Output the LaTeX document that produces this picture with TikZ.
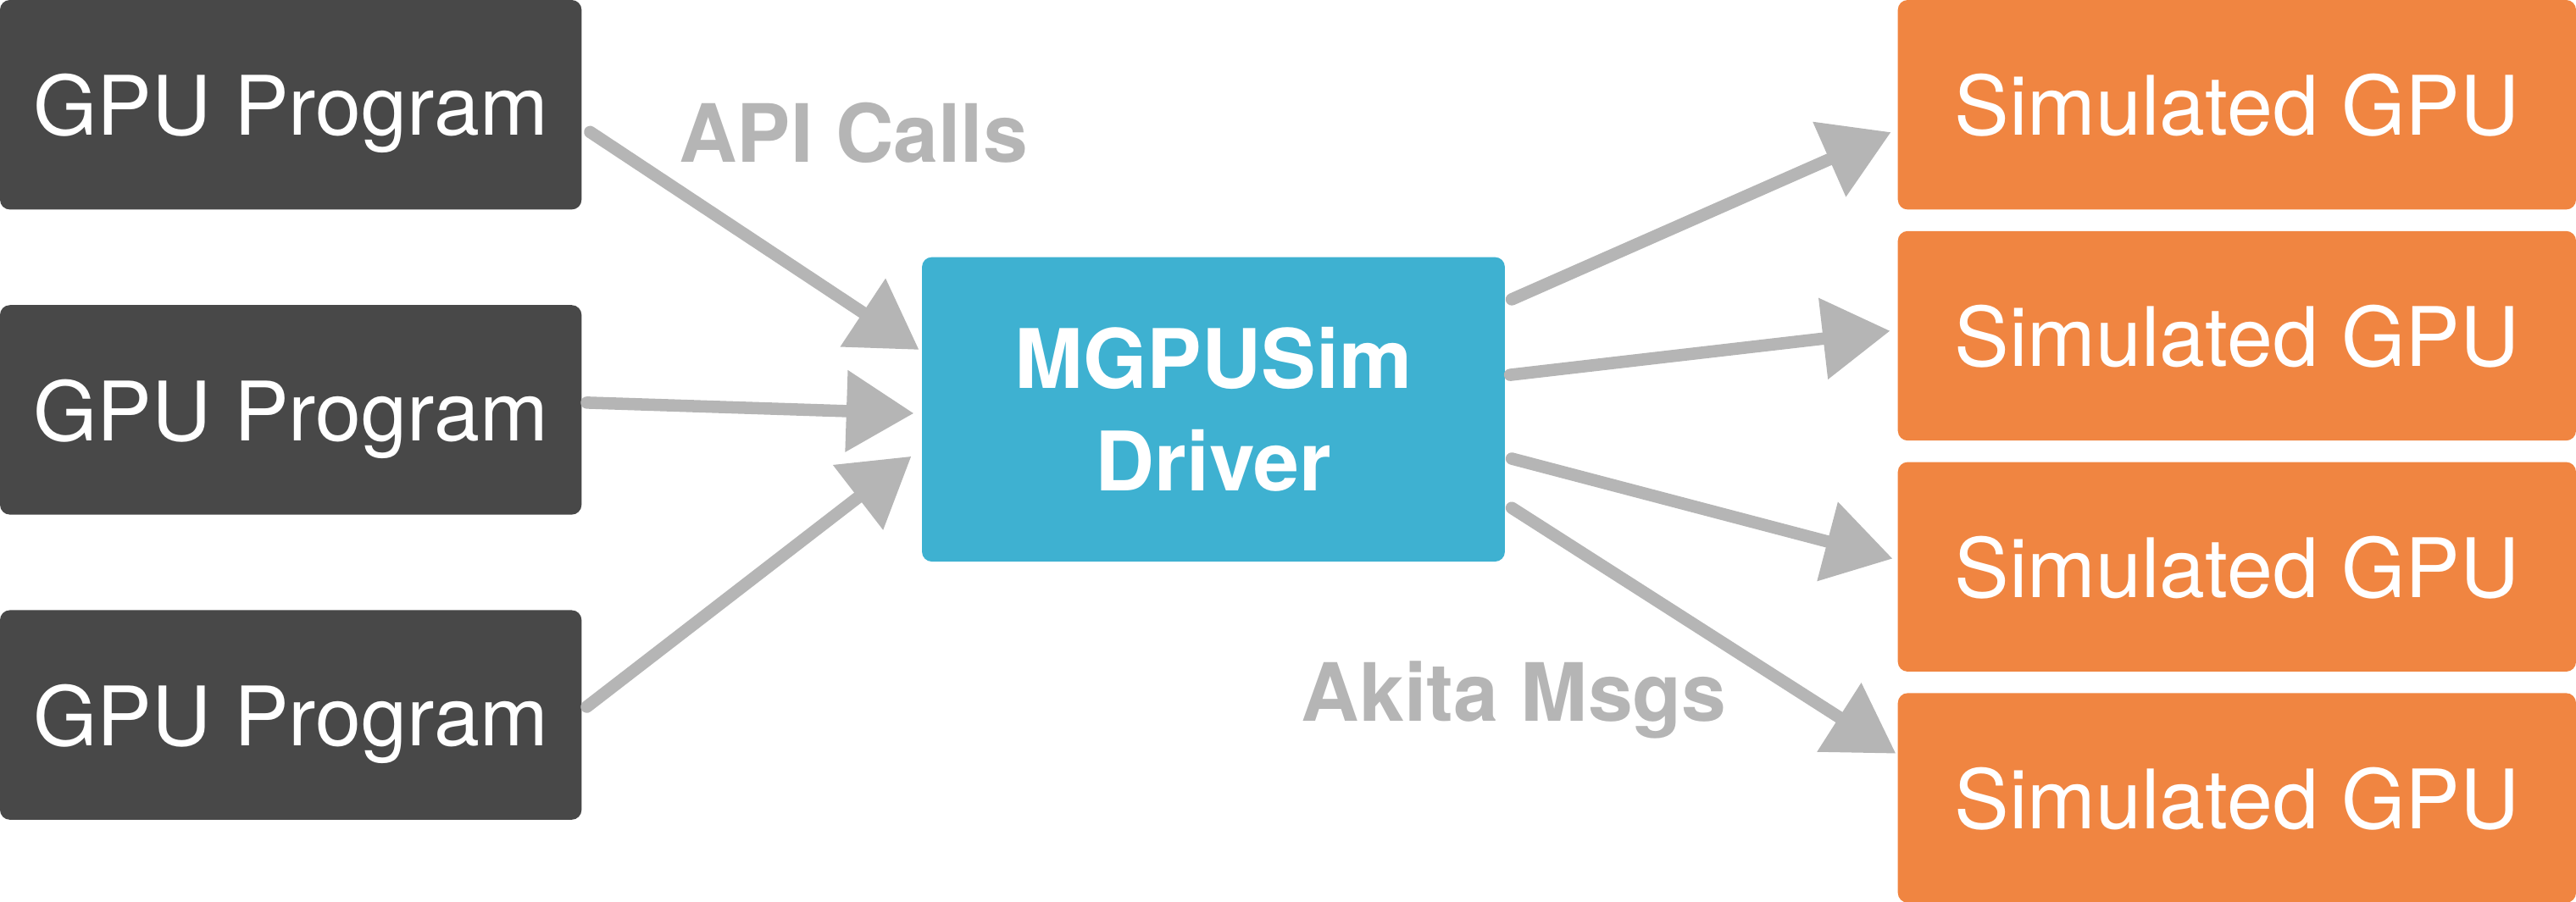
\documentclass[tikz,border=0pt]{standalone}
\usepackage{fontspec}
\setmainfont{TeX Gyre Heros}
\usepackage{xcolor}
\usepackage{tikz}
\usetikzlibrary{positioning,calc,arrows.meta}
\definecolor{progGray}{HTML}{484848}
\definecolor{driverBlue}{HTML}{3EB1D1}
\definecolor{simOrange}{HTML}{F08541}
\definecolor{flowGray}{HTML}{B5B5B5}

\begin{document}
\begin{tikzpicture}[x=1pt, y=-1pt,
    box/.style={rectangle, rounded corners=6pt, text=white, inner sep=0pt, font=\fontsize{50}{62}\selectfont},
    program/.style={box, fill=progGray, text depth=0pt, minimum width=354pt, minimum height=127.6pt},
    simgpu/.style={box, fill=simOrange, text depth=0pt, minimum width=412.8pt, minimum height=127.6pt},
    driverbox/.style={box, fill=driverBlue, align=center, font=\bfseries\fontsize{50}{62}\selectfont, minimum width=354.8pt, minimum height=185.4pt},
    flow/.style={draw=flowGray, line width=7.5pt, line cap=round, -{Triangle[length=41pt, width=48pt]}},
    tag/.style={text=flowGray, anchor=base, font=\bfseries\fontsize{49}{59}\selectfont}]
    \useasboundingbox (0,0) rectangle (1568,548.8);
    \node[program] (prog1) at (177,63.8) {GPU Program};
    \node[program, below=57.8pt of prog1] (prog2) {GPU Program};
    \node[program, below=57.8pt of prog2] (prog3) {GPU Program};
    \node[driverbox] (driver) at (738.6,249.3) {MGPUSim\\Driver};
    \node[simgpu] (sim1) at (1361.6,63.8) {Simulated GPU};
    \foreach \i [count=\j from 2] in {1,2,3}
        \node[simgpu, below=12.7pt of sim\i] (sim\j) {Simulated GPU};
    \node[tag] (api) at (519.5,99) {API Calls};
    \node[tag] (msgs) at (921.6,439.3) {Akita Msgs};
    \draw[flow] ($(prog1.east)+(5,16.6)$) -- ($(driver.west)+(-1.6,-36.3)$);
    \draw[flow] ($(prog2.east)+(3,-4.4)$) -- ($(driver.west)+(-4.8,2.4)$);
    \draw[flow] ($(prog3.east)+(3,-5)$) -- ($(driver.west)+(-6.3,28.6)$);
    \draw[flow] ($(driver.east)+(4,-67)$) -- ($(sim1.west)+(-4,16.7)$);
    \draw[flow] ($(driver.east)+(3,-21)$) -- ($(sim2.west)+(-4.5,-3)$);
    \draw[flow] ($(driver.east)+(4,30)$) -- ($(sim3.west)+(-3,-5)$);
    \draw[flow] ($(driver.east)+(4,60)$) -- ($(sim4.west)+(-1,-27)$);
\end{tikzpicture}
\end{document}
